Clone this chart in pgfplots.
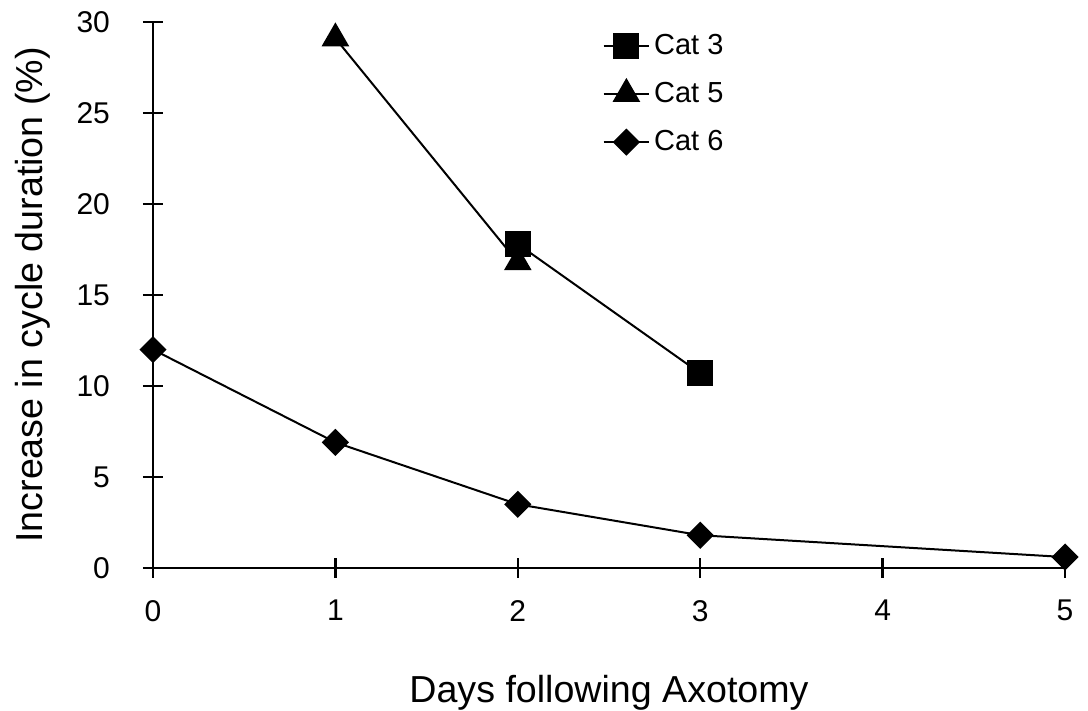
\documentclass[border=0pt]{standalone}
\usepackage{fontspec}
\setmainfont{Liberation Sans}
\usepackage{pgfplots}
\pgfplotsset{compat=1.18}
\begin{document}
\begin{tikzpicture}
\useasboundingbox (-76.5pt,-71.5pt) rectangle (467.5pt,284pt);
\begin{axis}[
  at={(0pt,0pt)}, anchor=origin,
  x=91.2pt, y=9.1pt,
  xmin=0, xmax=5, ymin=0, ymax=30,
  enlargelimits=false, clip=false,
  axis lines=left,
  axis line style={-, line width=1.2pt},
  every tick/.style={black, line width=1.2pt},
  major tick length=10pt,
  tick align=center,
  xtick={0,1,2,3,4,5},
  ytick={0,5,10,15,20,25,30},
  /pgf/number format/assume math mode=true,
  tick label style={font=\fontsize{15}{18}\selectfont},
  xticklabel style={yshift=-7.5pt},
  yticklabel style={xshift=-13pt},
  xlabel={Days following Axotomy},
  ylabel={Increase in cycle duration (\%)},
  label style={font=\fontsize{18.8}{22}\selectfont},
  xlabel style={yshift=-20pt},
  ylabel style={yshift=6.5pt},
  legend cell align=left,
  legend style={at={(axis cs:2.43,29.8)}, anchor=north west, draw=none, fill=none,
    font=\fontsize{14.5}{17}\selectfont, row sep=8.5pt},
  legend image code/.code={\draw[mark repeat=2,mark phase=2] plot coordinates {(0cm,0cm) (0.4cm,0cm) (0.8cm,0cm)};},
  every axis plot/.append style={black, line width=1pt},
]
\addplot[mark=square*, mark size=6pt, mark options={solid}] coordinates {(2,17.8) (3,10.7)};
\addlegendentry{Cat 3}
\addplot[mark=triangle*, mark size=7pt, mark options={solid}] coordinates {(1,29.1) (2,16.8)};
\addlegendentry{Cat 5}
\addplot[mark=square*, mark size=4.3pt, mark options={solid, rotate=45}] coordinates {(0,12.0) (1,6.9) (2,3.5) (3,1.8) (5,0.6)};
\addlegendentry{Cat 6}
\end{axis}
\end{tikzpicture}
\end{document}
